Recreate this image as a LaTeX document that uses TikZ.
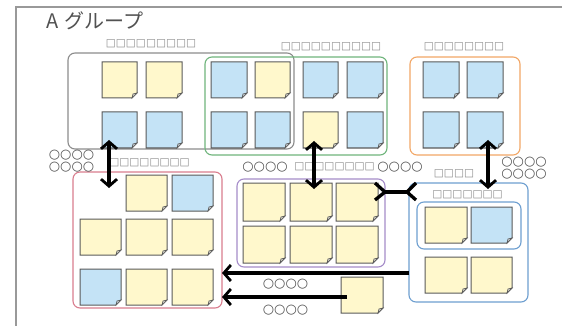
\documentclass[tikz,border=0pt]{standalone}
\usepackage{fontspec}
\usetikzlibrary{calc,arrows.meta}
\newfontfamily\jpfont{Noto Sans CJK JP}
\newfontfamily\symfont{DejaVu Sans}
\definecolor{noteY}{HTML}{FFF8CC}
\definecolor{noteB}{HTML}{C4E3F6}
\definecolor{noteEdge}{HTML}{5A5A5A}
\definecolor{gGray}{HTML}{8C8C8C}
\definecolor{gGreen}{HTML}{6FB57C}
\definecolor{gOrange}{HTML}{F2A766}
\definecolor{gPink}{HTML}{D97D8E}
\definecolor{gPurple}{HTML}{A58CC9}
\definecolor{gBlue}{HTML}{6E9FD0}
\definecolor{sqc}{HTML}{8A8A8A}
\definecolor{circc}{HTML}{505050}
\tikzset{
  notebox/.style={draw=none,inner sep=0pt,outer sep=0pt},
  noteline/.style={draw=noteEdge,line width=1pt,line join=miter},
  grp/.style={draw=#1,line width=1.1pt,rounded corners=7pt,inner sep=0pt,outer sep=0pt},
  sqlab/.style={inner sep=0pt,text=sqc,font=\symfont\fontsize{10.6}{11}\selectfont},
  circlab/.style={inner sep=0pt,text=circc,font=\symfont\fontsize{13}{12}\selectfont,align=center},
  bigarrow/.style={line width=3.8pt,black,{Straight Barb[length=7pt,width=16pt,line width=2.8pt]}-{Straight Barb[length=7pt,width=16pt,line width=2.8pt]}},
  onearrow/.style={line width=3.8pt,black,-{Straight Barb[length=7pt,width=16pt,line width=2.8pt]}},
  crow/.style={line width=3.3pt,black,line cap=butt}
}
% #1 name, #2 x, #3 y, #4 width, #5 height, #6 colour
\newcommand\stnote[6]{%
  \node[notebox,minimum width=#4pt,minimum height=#5pt] (#1) at (#2,#3) {};
  \filldraw[noteline,fill=#6] (#1.north west) -- (#1.north east) -- ($(#1.south east)+(0,-5)$) -- ($(#1.south east)+(-5,0)$) -- (#1.south west) -- cycle;
  \filldraw[noteline,line width=0.7pt,fill=#6!60!black!40] ($(#1.south east)+(0,-5)$) -- ($(#1.south east)+(-5,0)$) -- ($(#1.south east)+(-4,-4)$) -- cycle;
}
\begin{document}
\begin{tikzpicture}[x=1pt,y=-1pt]
\useasboundingbox (0,0) rectangle (562,326);
\fill[white] (0,0) rectangle (562,326);
% outer frame
\draw[line width=1.4pt,color=gray!80] (16,330) -- (16,7) -- (566,7);
\node[anchor=west,inner sep=0pt,text=black!68,font=\jpfont\fontsize{20}{20}\selectfont] (title) at (46,21) {A\hspace{2pt} グループ};

% groups
\node[grp=gGray,minimum width=226pt,minimum height=96pt] (gg) at (181,101) {};
\node[grp=gGreen,minimum width=182pt,minimum height=98pt] (gn) at (296,106) {};
\node[grp=gOrange,minimum width=110pt,minimum height=98pt] (go) at (465,106) {};
\node[grp=gPink,minimum width=149pt,minimum height=136pt] (gp) at (147.5,240) {};
\node[grp=gPurple,minimum width=148pt,minimum height=88pt] (gu) at (311,223) {};
\node[grp=gBlue,minimum width=119pt,minimum height=119pt] (gb) at (468.5,242.5) {};
\node[grp=gBlue,minimum width=104pt,minimum height=47pt] (gbi) at (469,225.5) {};

% notes: gray group
\stnote{n1}{119.5}{80}{35}{36}{noteY}
\stnote{n2}{164}{80}{36}{36}{noteY}
\stnote{n3}{119.5}{130}{35}{36}{noteB}
\stnote{n4}{164}{130}{36}{36}{noteB}
% green group
\stnote{n5}{229}{80}{36}{36}{noteB}
\stnote{n6}{272.5}{80}{35}{36}{noteY}
\stnote{n7}{320.5}{80}{35}{36}{noteB}
\stnote{n8}{365}{80}{36}{36}{noteB}
\stnote{n9}{229}{130}{36}{36}{noteB}
\stnote{n10}{272.5}{130}{35}{36}{noteB}
\stnote{n11}{320.5}{130}{35}{36}{noteY}
\stnote{n12}{365}{130}{36}{36}{noteB}
% orange group
\stnote{n13}{441}{80}{36}{36}{noteB}
\stnote{n14}{485}{80}{36}{36}{noteB}
\stnote{n15}{441}{130}{36}{36}{noteB}
\stnote{n16}{485}{130}{36}{36}{noteB}
% pink group
\stnote{n17}{146.5}{193}{41}{36}{noteY}
\stnote{n18}{192.5}{193}{41}{36}{noteB}
\stnote{n19}{100.5}{237}{41}{36}{noteY}
\stnote{n20}{146.5}{237}{41}{36}{noteY}
\stnote{n21}{192.5}{237}{41}{36}{noteY}
\stnote{n22}{100.5}{287}{41}{36}{noteB}
\stnote{n23}{146.5}{287}{41}{36}{noteY}
\stnote{n24}{192.5}{287}{41}{36}{noteY}
% purple group
\stnote{n25}{264}{202}{42}{38}{noteY}
\stnote{n26}{311}{202}{42}{38}{noteY}
\stnote{n27}{357}{202}{42}{38}{noteY}
\stnote{n28}{264}{244.5}{42}{37}{noteY}
\stnote{n29}{311}{244.5}{42}{37}{noteY}
\stnote{n30}{357}{244.5}{42}{37}{noteY}
% blue group
\stnote{n31}{446}{225}{42}{36}{noteY}
\stnote{n32}{491.5}{225}{41}{36}{noteB}
\stnote{n33}{446}{275}{42}{36}{noteY}
\stnote{n34}{491.5}{275}{41}{36}{noteY}
% lone note
\stnote{n35}{362}{295}{42}{36}{noteY}

% labels
\node[sqlab] (l1) at (151,44) {□□□□□□□□□};
\node[sqlab] (l2) at (331,47) {□□□□□□□□□□};
\node[sqlab] (l3) at (464,47) {□□□□□□□□};
\node[circlab] (l4) at (71.5,161.5) {○○○○\\○○○○};
\node[sqlab] (l5) at (149.5,163) {□□□□□□□□};
\node[circlab] (l6) at (265,167) {○○○○};
\node[sqlab] (l7) at (334.5,167) {□□□□□□□□};
\node[circlab] (l8) at (400,167) {○○○○};
\node[sqlab] (l9) at (454,174) {□□□□};
\node[circlab] (l10) at (524,168) {○○○○\\○○○○};
\node[sqlab] (l11) at (467.5,195) {□□□□□□□};
\node[circlab] (l12) at (285.5,284) {○○○○};
\node[circlab] (l13) at (285.5,310) {○○○○};

% vertical double arrows
\coordinate (a1t) at (109,140);
\coordinate (a1b) at (109,188);
\coordinate (a2t) at (314,141);
\coordinate (a2b) at (314,189);
\coordinate (a3t) at (488,140);
\coordinate (a3b) at (488,189);
\draw[bigarrow] (a1t) -- (a1b);
\draw[bigarrow] (a2t) -- (a2b);
\draw[bigarrow] (a3t) -- (a3b);

% crow's foot connector between purple and blue groups
\coordinate (cjl) at (385,192);
\coordinate (cjr) at (407,192);
\draw[crow] (375,183) -- (cjl) -- (375,200);
\draw[crow] (416,183) -- (cjr) -- (416,200);
\draw[crow] (cjl) -- (cjr);

% horizontal arrows to pink group
\coordinate (h1s) at (gb.west |- 0,273);
\coordinate (h1e) at (gp.east |- 0,273);
\draw[onearrow] (h1s) -- (h1e);
\coordinate (h2s) at (347,297);
\coordinate (h2e) at (gp.east |- 0,297);
\draw[onearrow] (h2s) -- (h2e);
\end{tikzpicture}
\end{document}
